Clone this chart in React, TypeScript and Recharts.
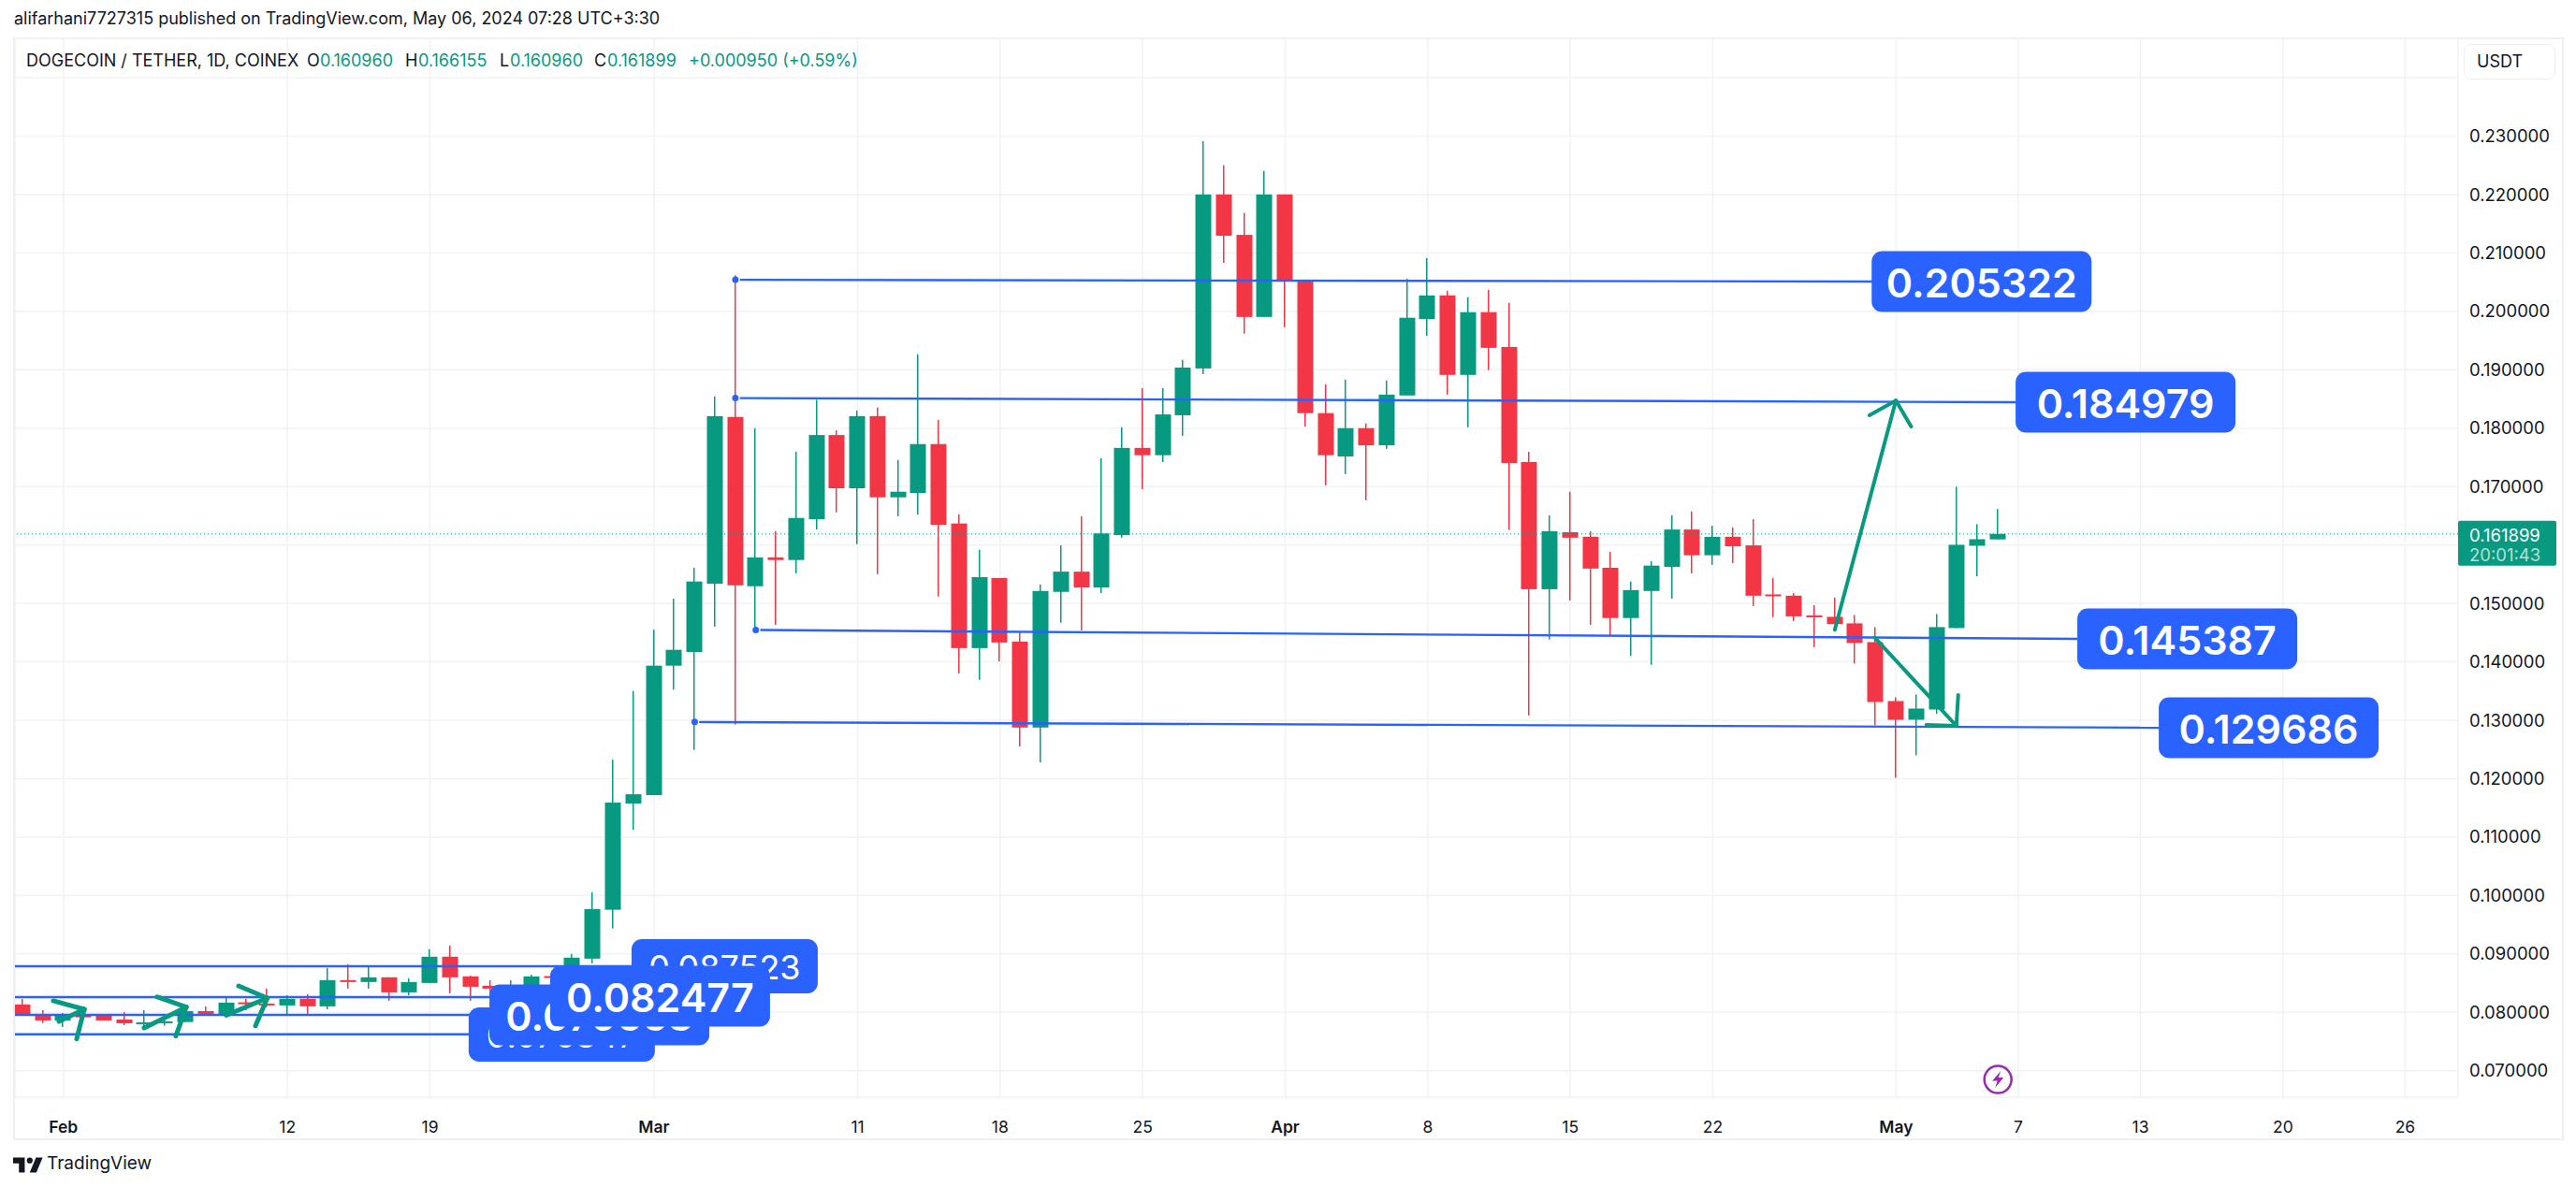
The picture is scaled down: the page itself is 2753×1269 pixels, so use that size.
import React from 'react';
import {
  Bar,
  CartesianGrid,
  ComposedChart,
  ReferenceDot,
  ReferenceLine,
  XAxis,
  YAxis,
} from 'recharts';

const GREEN = '#089981';
const RED = '#F23645';
const BLUE = '#2962FF';
const INK = '#131722';
const GRID = '#F0F2F5';
const FRAME = '#EEEFF4';
const FONT = 'Inter, "Noto Sans", sans-serif';

// daily candles, first one is Jan 30 2024 (day index 0), last one May 6
const opens = [
  0.08134, 0.07973, 0.07861, 0.07946, 0.07952, 0.07877, 0.07813, 0.07824, 0.07834, 0.08021,
  0.07952, 0.08171, 0.0815, 0.08118, 0.0823, 0.08102, 0.08551, 0.08519, 0.08599, 0.08342,
  0.08503, 0.08952, 0.08615, 0.08454, 0.08406, 0.08438, 0.0862, 0.08599, 0.08919, 0.09756,
  0.11574, 0.11718, 0.13934, 0.14169, 0.15338, 0.18191, 0.15294, 0.15787, 0.15743, 0.16441,
  0.17882, 0.16971, 0.18206, 0.16816, 0.1689, 0.17728, 0.16368, 0.14235, 0.15434, 0.14346,
  0.12875, 0.15198, 0.15544, 0.15272, 0.16169, 0.17662, 0.17537, 0.18221, 0.19022, 0.22,
  0.21309, 0.19904, 0.22, 0.20522, 0.18257, 0.17515, 0.18, 0.17706, 0.1856, 0.19868,
  0.20272, 0.18912, 0.19985, 0.1939, 0.17419, 0.15243, 0.1622, 0.1614, 0.1561, 0.1475,
  0.15213, 0.15625, 0.16265, 0.15824, 0.1614, 0.15993, 0.15154, 0.15132, 0.14794, 0.1477,
  0.14658, 0.14337, 0.13328, 0.13008, 0.13184, 0.14578, 0.15987, 0.16096,
];
const closes = [
  0.07952, 0.07861, 0.07952, 0.07925, 0.07861, 0.07813, 0.07829, 0.07845, 0.08021, 0.07973,
  0.08166, 0.08155, 0.08118, 0.0823, 0.08102, 0.08551, 0.08519, 0.08599, 0.08342, 0.08519,
  0.08952, 0.08599, 0.08438, 0.08406, 0.08454, 0.08615, 0.08604, 0.08936, 0.09767, 0.1159,
  0.11733, 0.13934, 0.14206, 0.15375, 0.18206, 0.15309, 0.15787, 0.15743, 0.16463, 0.17882,
  0.16971, 0.18206, 0.16816, 0.16912, 0.17728, 0.16346, 0.14235, 0.15449, 0.14331, 0.12875,
  0.15213, 0.15544, 0.15272, 0.16198, 0.17662, 0.17537, 0.18235, 0.19037, 0.22, 0.21294,
  0.19904, 0.22, 0.20522, 0.18257, 0.17537, 0.18, 0.17706, 0.18574, 0.1989, 0.20272,
  0.18912, 0.19985, 0.19375, 0.17404, 0.15243, 0.16235, 0.16125, 0.15596, 0.1475, 0.15228,
  0.15647, 0.16265, 0.15824, 0.1614, 0.15978, 0.15132, 0.15132, 0.14779, 0.14772, 0.14647,
  0.14322, 0.13312, 0.13008, 0.132, 0.14594, 0.16003, 0.16099, 0.161899,
];
const highs = [
  0.0823, 0.08037, 0.07989, 0.08011, 0.07952, 0.08005, 0.08037, 0.07941, 0.0803, 0.08102,
  0.08262, 0.0823, 0.08406, 0.08294, 0.0831, 0.08759, 0.08824, 0.08786, 0.08599, 0.08583,
  0.0908, 0.09144, 0.0863, 0.08551, 0.08551, 0.08647, 0.08711, 0.09, 0.10055, 0.12325,
  0.135, 0.14551, 0.15081, 0.1561, 0.18544, 0.20618, 0.18, 0.16235, 0.17596, 0.18485,
  0.17963, 0.18301, 0.18353, 0.17456, 0.19265, 0.1814, 0.16522, 0.15919, 0.15434, 0.14515,
  0.15324, 0.15993, 0.16493, 0.17485, 0.18015, 0.18684, 0.18684, 0.19169, 0.22912, 0.225,
  0.21684, 0.22404, 0.22, 0.20522, 0.1875, 0.18831, 0.18081, 0.18816, 0.20559, 0.20912,
  0.20353, 0.20243, 0.20368, 0.20147, 0.17596, 0.16507, 0.16912, 0.16235, 0.15882, 0.15375,
  0.15721, 0.16507, 0.16574, 0.16331, 0.16301, 0.16441, 0.15434, 0.15176, 0.1497, 0.15101,
  0.14802, 0.14594, 0.13392, 0.1344, 0.14818, 0.16996, 0.16356, 0.166155,
];
const lows = [
  0.0794, 0.07813, 0.07749, 0.07861, 0.07861, 0.07781, 0.07749, 0.0777, 0.07834, 0.07952,
  0.0793, 0.08037, 0.08086, 0.07957, 0.07973, 0.08053, 0.08406, 0.08406, 0.08198, 0.08294,
  0.08503, 0.08326, 0.08198, 0.0831, 0.08294, 0.0839, 0.08535, 0.08422, 0.08839, 0.09436,
  0.11126, 0.11718, 0.13522, 0.12492, 0.14603, 0.12926, 0.14544, 0.14632, 0.15515, 0.16265,
  0.16559, 0.16015, 0.155, 0.16493, 0.16522, 0.15118, 0.13802, 0.13691, 0.14007, 0.12551,
  0.12279, 0.14669, 0.14537, 0.15176, 0.16125, 0.16956, 0.17419, 0.17868, 0.18926, 0.20831,
  0.19618, 0.19904, 0.19728, 0.18029, 0.17022, 0.17213, 0.16765, 0.17647, 0.1856, 0.19581,
  0.18574, 0.18015, 0.18993, 0.16257, 0.13081, 0.14382, 0.15051, 0.14632, 0.14441, 0.14103,
  0.13949, 0.15081, 0.15515, 0.15662, 0.15691, 0.14956, 0.14765, 0.14698, 0.1425, 0.14647,
  0.13969, 0.12912, 0.12015, 0.12399, 0.13109, 0.14578, 0.15464, 0.16096,
];

const lastPrice = 0.161899;

// time axis: day index -> label, months are drawn bold
const dayTicks = [2, 13, 20, 31, 41, 48, 55, 62, 69, 76, 83, 92, 98, 104, 111, 117];
const dayLabels = ['Feb', '12', '19', 'Mar', '11', '18', '25', 'Apr', '8', '15', '22', 'May', '7', '13', '20', '26'];
const monthLabels = ['Feb', 'Mar', 'Apr', 'May'];
const priceTicks = [
  0.07, 0.08, 0.09, 0.1, 0.11, 0.12, 0.13, 0.14, 0.15, 0.16, 0.17, 0.18, 0.19, 0.2, 0.21, 0.22, 0.23, 0.24,
];
// 0.24 sits under the USDT button and 0.16 under the last price tag
const hiddenPriceLabels = [0.24, 0.16];

const DAY_MIN = -0.38;
const DAY_MAX = 119.6;
const PRICE_MIN = 0.06547;
const PRICE_MAX = 0.24673;

// user drawings, all in [day, price] chart units
const levelLines: number[][] = [
  [35.22, 0.2054, 90.9, 0.2051],
  [35.22, 0.18515, 97.9, 0.18444],
  [36.22, 0.14544, 100.9, 0.14393],
  [33.22, 0.1297, 104.9, 0.12872],
  [DAY_MIN, 0.08789, 30, 0.08789],
  [DAY_MIN, 0.0826, 26, 0.0826],
  [DAY_MIN, 0.07955, 23, 0.07955],
  [DAY_MIN, 0.07624, 22, 0.07624],
];
const levelDots: number[][] = [
  [35, 0.2054],
  [35, 0.18515],
  [36, 0.14544],
  [33, 0.1297],
];
const bigArrows: number[][] = [
  [88.99, 0.14548, 91.99, 0.18472],
  [90.69, 0.1822, 91.99, 0.18472],
  [92.74, 0.18028, 91.99, 0.18472],
  [90.95, 0.14414, 94.96, 0.12904],
  [93.49, 0.1292, 94.96, 0.12904],
  [95.05, 0.13432, 94.96, 0.12904],
];
const smallArrows: number[][] = [
  [1.5, 0.08197, 3.02, 0.08052],
  [2.65, 0.07544, 3.02, 0.08052],
  [1.78, 0.07844, 3.02, 0.08052],
  [6.59, 0.08265, 8.03, 0.08089],
  [7.52, 0.07593, 8.03, 0.08089],
  [5.96, 0.07732, 8.03, 0.08089],
  [10.6, 0.08452, 12.01, 0.08244],
  [11.43, 0.07769, 12.01, 0.08244],
  [9.99, 0.07951, 12.01, 0.08244],
];

// price tags: text, left edge day, centre price, big or small. drawn in this order
const tagTexts = ['0.205322', '0.184979', '0.145387', '0.129686', '0.076347', '0.079553', '0.087523', '0.082477'];
const tagDays = [90.8, 97.87, 100.9, 104.9, 21.9, 22.92, 29.9, 25.9];
const tagPrices = [0.2051, 0.18444, 0.14393, 0.12872, 0.0762, 0.07955, 0.08789, 0.08276];
const tagIsBig = [true, true, true, true, false, true, false, true];

const candles = opens.map((open, day) => ({
  day,
  open,
  close: closes[day],
  high: highs[day],
  low: lows[day],
  range: [lows[day], highs[day]],
}));

const Candle = (props: any) => {
  const { x, y, width, height, payload } = props;
  const { open, close, high, low } = payload;
  const color = close >= open ? GREEN : RED;
  const perUnit = height / (high - low);
  const top = y + (high - Math.max(open, close)) * perUnit;
  const bodyHeight = Math.max(Math.abs(open - close) * perUnit, 2);
  const center = Math.round(x + width / 2);
  return (
    <g>
      <rect x={center - 1} y={y} width={1.5} height={height} fill={color} />
      <rect x={center - width / 2} y={top} width={width} height={bodyHeight} fill={color} />
    </g>
  );
};

const DayTick = (props: any) => {
  const { x, y, payload } = props;
  const label = dayLabels[dayTicks.indexOf(payload.value)];
  const bold = monthLabels.includes(label);
  return (
    <text
      x={x}
      y={y + 23}
      textAnchor="middle"
      dominantBaseline="central"
      fontFamily={FONT}
      fontSize={17.5}
      fontWeight={bold ? 600 : 400}
      fill={INK}
    >
      {label}
    </text>
  );
};

const PriceTag = (props: any) => {
  const { cx, cy, text, big } = props;
  const w = big ? 235 : 199;
  const h = big ? 65 : 58;
  return (
    <g>
      <rect x={cx} y={cy - h / 2} width={w} height={h} rx={11} fill={BLUE} />
      <text
        x={cx + w / 2}
        y={cy + 1}
        textAnchor="middle"
        dominantBaseline="central"
        fontFamily={FONT}
        fontSize={big ? 43 : 36}
        fontWeight={big ? 600 : 400}
        fill="#FFFFFF"
      >
        {text}
      </text>
    </g>
  );
};

const LastPriceTag = (props: any) => {
  const { cx, cy } = props;
  return (
    <g fontFamily={FONT} fontSize={18.5}>
      <rect x={cx} y={cy - 14} width={105} height={48} rx={2} fill={GREEN} />
      <text x={cx + 12} y={cy + 1} dominantBaseline="central" fill="#FFFFFF">
        {lastPrice.toFixed(6)}
      </text>
      <text x={cx + 12} y={cy + 22} dominantBaseline="central" fill="#FFFFFF" fillOpacity={0.7}>
        20:01:43
      </text>
    </g>
  );
};

const BoltIcon = (props: any) => {
  const { cx, cy } = props;
  return (
    <g>
      <circle cx={cx} cy={cy} r={14.5} fill="#FFFFFF" stroke="#9C27B0" strokeWidth={2.5} />
      <path
        d={`M${cx + 3} ${cy - 9} L${cx - 6} ${cy + 1.5} L${cx - 0.5} ${cy + 1.5} L${cx - 3} ${cy + 9} L${cx + 6} ${cy - 2} L${cx + 0.5} ${cy - 2} Z`}
        fill="#9C27B0"
      />
    </g>
  );
};

const segmentOf = ([x1, y1, x2, y2]: number[]) => [
  { x: x1, y: y1 },
  { x: x2, y: y2 },
];

const textStyle = (left: number, top: number, color = INK): React.CSSProperties => ({
  position: 'absolute',
  left,
  top,
  color,
  fontFamily: FONT,
  fontSize: 18,
  lineHeight: '20px',
  whiteSpace: 'nowrap',
});

export default function App() {
  return (
    <div style={{ position: 'absolute', left: 0, top: 0, width: 2753, height: 1269, overflow: 'hidden', background: '#fff' }}>
      <div style={textStyle(15, 10)}>alifarhani7727315 published on TradingView.com, May 06, 2024 07:28 UTC+3:30</div>
      <div
        style={{
          position: 'absolute',
          left: 14,
          top: 40,
          width: 2722,
          height: 1175,
          border: `2px solid ${FRAME}`,
        }}
      />

      <div style={{ position: 'absolute', left: 0, top: 0 }}>
        <ComposedChart
          width={2753}
          height={1269}
          data={candles}
          margin={{ top: 41, right: 0, bottom: 0, left: 16 }}
        >
          <CartesianGrid stroke={GRID} strokeWidth={1.5} />
          <XAxis
            dataKey="day"
            type="number"
            domain={[DAY_MIN, DAY_MAX]}
            ticks={dayTicks}
            interval={0}
            height={96}
            axisLine={false}
            tickLine={false}
            tick={<DayTick />}
            allowDataOverflow
          />
          <YAxis
            orientation="right"
            type="number"
            domain={[PRICE_MIN, PRICE_MAX]}
            ticks={priceTicks}
            interval={0}
            width={126}
            axisLine={false}
            tickLine={false}
            tickMargin={6}
            tick={{ fill: INK, fontSize: 18.5, fontFamily: FONT }}
            tickFormatter={(v: number) => (hiddenPriceLabels.includes(v) ? '' : v.toFixed(6))}
            allowDataOverflow
          />

          <ReferenceLine y={lastPrice} stroke={GREEN} strokeWidth={1} strokeDasharray="1 3" />

          {levelLines.map((line, i) => (
            <ReferenceLine key={`level-${i}`} segment={segmentOf(line)} stroke={BLUE} strokeWidth={2.4} ifOverflow="visible" />
          ))}
          {levelDots.map(([day, price], i) => (
            <ReferenceDot key={`dot-${i}`} x={day} y={price} r={3.5} fill={BLUE} stroke="none" ifOverflow="visible" />
          ))}
          {bigArrows.map((line, i) => (
            <ReferenceLine key={`big-${i}`} segment={segmentOf(line)} stroke={GREEN} strokeWidth={4} strokeLinecap="round" ifOverflow="visible" />
          ))}
          {smallArrows.map((line, i) => (
            <ReferenceLine key={`small-${i}`} segment={segmentOf(line)} stroke={GREEN} strokeWidth={5} strokeLinecap="round" ifOverflow="visible" />
          ))}
          {tagTexts.map((text, i) => (
            <ReferenceDot
              key={text}
              x={tagDays[i]}
              y={tagPrices[i]}
              ifOverflow="visible"
              shape={(p: any) => <PriceTag {...p} text={text} big={tagIsBig[i]} />}
            />
          ))}
          <ReferenceDot x={DAY_MAX} y={lastPrice} ifOverflow="visible" shape={LastPriceTag} />
          <ReferenceDot x={97} y={0.06851} ifOverflow="visible" shape={BoltIcon} />

          <Bar dataKey="range" barSize={17} isAnimationActive={false} shape={Candle} />
        </ComposedChart>
      </div>

      <div style={textStyle(28, 55)}>DOGECOIN / TETHER, 1D, COINEX</div>
      <div style={textStyle(328, 55)}>O</div>
      <div style={textStyle(342, 55, GREEN)}>0.160960</div>
      <div style={textStyle(433, 55)}>H</div>
      <div style={textStyle(447, 55, GREEN)}>0.166155</div>
      <div style={textStyle(534, 55)}>L</div>
      <div style={textStyle(545, 55, GREEN)}>0.160960</div>
      <div style={textStyle(635, 55)}>C</div>
      <div style={textStyle(649, 55, GREEN)}>0.161899</div>
      <div style={textStyle(736, 55, GREEN)}>+0.000950 (+0.59%)</div>

      <div
        style={{
          position: 'absolute',
          left: 2633,
          top: 47,
          width: 98,
          height: 38,
          boxSizing: 'border-box',
          border: `1.5px solid ${FRAME}`,
          borderRadius: 8,
          background: '#fff',
          color: INK,
          fontFamily: FONT,
          fontSize: 18,
          lineHeight: '35px',
          paddingLeft: 13,
        }}
      >
        USDT
      </div>

      <svg style={{ position: 'absolute', left: 14, top: 1234 }} width={32} height={25} viewBox="0 0 36 28">
        <path d="M14 22H7V11H0V4h14v18zM28 22h-8l7.5-18h8L28 22z" fill={INK} />
        <circle cx={20} cy={7.5} r={3.5} fill={INK} />
      </svg>
      <div style={{ ...textStyle(50, 1233), fontSize: 19, lineHeight: '22px' }}>TradingView</div>
    </div>
  );
}
